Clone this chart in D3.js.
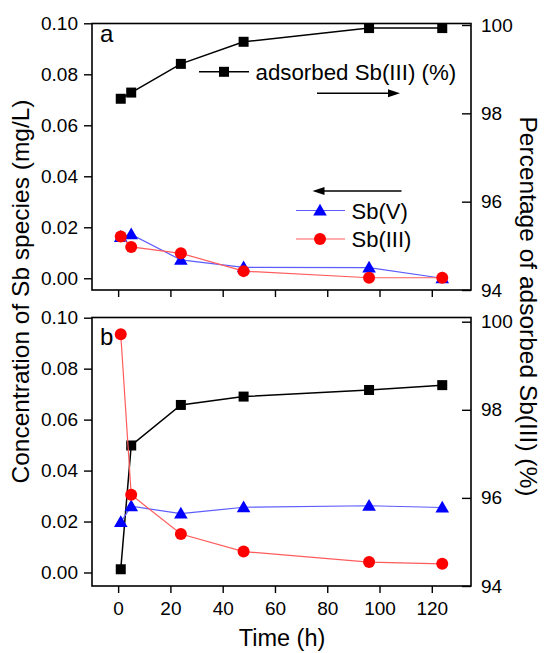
<!DOCTYPE html>
<html>
<head>
<meta charset="utf-8">
<script src="https://cdn.jsdelivr.net/npm/d3@7"></script>
<style>
  html, body { margin: 0; padding: 0; background: #fff; }
  svg { display: block; font-family: "Liberation Sans", Arial, Helvetica, sans-serif; }
</style>
</head>
<body>
<svg id="chart" width="546" height="653"></svg>
<script>
// ---- data ----
const times = [1, 5, 24, 48, 96, 124];
const topSbV   = [0.0162, 0.0172, 0.0072, 0.0043, 0.0042, 0.0];
const topSbIII = [0.0164, 0.0123, 0.0098, 0.0028, 0.0002, 0.0002];
const topAds   = [98.33, 98.47, 99.12, 99.62, 99.93, 99.93];
const botSbV   = [0.0198, 0.0260, 0.0231, 0.0256, 0.0262, 0.0255];
const botSbIII = [0.0935, 0.0305, 0.0151, 0.0082, 0.0041, 0.0034];
const botAds   = [94.38, 97.19, 98.11, 98.30, 98.45, 98.56];
const xTicks = [0, 20, 40, 60, 80, 100, 120];
const leftTicks = [0.00, 0.02, 0.04, 0.06, 0.08, 0.10];
const rightTicks = [94, 96, 98, 100];
const panelLetters = ["a", "b"];
const legendLabels = ["adsorbed Sb(III) (%)", "Sb(V)", "Sb(III)"];
const yTitleLeft = "Concentration of Sb species (mg/L)";
const yTitleRight = "Percentage of adsorbed Sb(III) (%)";
const xTitle = "Time (h)";

// ---- layout ----
const svg = d3.select("#chart");
const X0 = 92, X1 = 471;
const x = d3.scaleLinear().domain([-10, 135]).range([X0, X1]);

const panels = [
  { top: 23.5, bottom: 290, yL: [-0.0046, 0.10], yLr: [290, 23.3], yR: [94, 100], yRr: [290, 25],
    sbv: topSbV, sb3: topSbIII, ads: topAds, letter: panelLetters[0], labels: false },
  { top: 317.5, bottom: 586, yL: [-0.0053, 0.10], yLr: [586, 317.7], yR: [94, 100], yRr: [586, 321.7],
    sbv: botSbV, sb3: botSbIII, ads: botAds, letter: panelLetters[1], labels: true }
];

const blueMk = "#0000ff", blueLn = "#5c5cff";
const redMk = "#ff0000", redLn = "#ff5c5c";
const tri = d3.symbol().type(d3.symbolTriangle).size(80);
const FF = "Liberation Sans, Arial, sans-serif";

panels.forEach((p, pi) => {
  const yl = d3.scaleLinear().domain(p.yL).range(p.yLr);
  const yr = d3.scaleLinear().domain(p.yR).range(p.yRr);
  const g = svg.append("g");

  // box
  g.append("rect").attr("x", X0).attr("y", p.top).attr("width", X1 - X0).attr("height", p.bottom - p.top)
    .attr("fill", "none").attr("stroke", "#000").attr("stroke-width", 1.6);

  // left axis (outward ticks)
  const la = g.append("g").attr("transform", `translate(${X0},0)`)
    .call(d3.axisLeft(yl).tickValues(leftTicks).tickFormat(d3.format(".2f")).tickSize(8).tickSizeOuter(0).tickPadding(6));
  la.select(".domain").remove();
  la.selectAll("line").attr("stroke-width", 1.4);
  la.selectAll("text").attr("font-size", 19).attr("fill", "#000").attr("font-family", FF);

  // right axis (inward ticks)
  const ra = g.append("g").attr("transform", `translate(${X1},0)`)
    .call(d3.axisRight(yr).tickValues(rightTicks).tickFormat(d3.format("d")).tickSize(0).tickPadding(10));
  ra.select(".domain").remove();
  ra.selectAll(".tick line").attr("x2", -9).attr("stroke", "#000").attr("stroke-width", 1.4);
  ra.selectAll("text").attr("font-size", 19).attr("fill", "#000").attr("font-family", FF);

  // bottom axis (outward ticks)
  const ba = g.append("g").attr("transform", `translate(0,${p.bottom})`)
    .call(d3.axisBottom(x).tickValues(xTicks).tickFormat(p.labels ? d3.format("d") : () => "").tickSize(7).tickSizeOuter(0).tickPadding(9));
  ba.select(".domain").remove();
  ba.selectAll("line").attr("stroke-width", 1.4);
  ba.selectAll("text").attr("font-size", 19).attr("fill", "#000").attr("font-family", FF);

  // series lines
  const lineL = d3.line().x((d, i) => x(times[i])).y(d => yl(d));
  const lineR = d3.line().x((d, i) => x(times[i])).y(d => yr(d));

  g.append("path").datum(p.ads).attr("d", lineR).attr("fill", "none").attr("stroke", "#000").attr("stroke-width", 1.5);
  g.selectAll(".sq").data(p.ads).enter().append("rect")
    .attr("x", (d, i) => x(times[i]) - 5).attr("y", d => yr(d) - 5)
    .attr("width", 10).attr("height", 10).attr("fill", "#000");

  g.append("path").datum(p.sbv).attr("d", lineL).attr("fill", "none").attr("stroke", blueLn).attr("stroke-width", 1.2);
  g.selectAll(".tri").data(p.sbv).enter().append("path")
    .attr("d", tri).attr("transform", (d, i) => `translate(${x(times[i])},${yl(d) + 1})`).attr("fill", blueMk);

  g.append("path").datum(p.sb3).attr("d", lineL).attr("fill", "none").attr("stroke", redLn).attr("stroke-width", 1.2);
  g.selectAll(".cir").data(p.sb3).enter().append("circle")
    .attr("cx", (d, i) => x(times[i])).attr("cy", d => yl(d)).attr("r", 6).attr("fill", redMk);

  // panel letter
  g.append("text").attr("x", 100).attr("y", p.top + (pi === 0 ? 18.5 : 27.5))
    .attr("font-size", 24).attr("fill", "#000").text(p.letter);
});

// ---- legend (panel a) ----
const lg = svg.append("g");
lg.append("line").attr("x1", 199).attr("x2", 249).attr("y1", 71.8).attr("y2", 71.8).attr("stroke", "#000").attr("stroke-width", 1.5);
lg.append("rect").attr("x", 219).attr("y", 66.8).attr("width", 10).attr("height", 10).attr("fill", "#000");
lg.append("text").attr("x", 255.5).attr("y", 80).attr("font-size", 22.3).attr("fill", "#000").text(legendLabels[0]);

lg.append("line").attr("x1", 296).attr("x2", 345).attr("y1", 210.5).attr("y2", 210.5).attr("stroke", blueLn).attr("stroke-width", 1.2);
lg.append("path").attr("d", tri).attr("transform", "translate(320,211.5)").attr("fill", blueMk);
lg.append("text").attr("x", 351.5).attr("y", 218.5).attr("font-size", 22).attr("fill", "#000").text(legendLabels[1]);

lg.append("line").attr("x1", 296).attr("x2", 345).attr("y1", 239).attr("y2", 239).attr("stroke", redLn).attr("stroke-width", 1.2);
lg.append("circle").attr("cx", 320).attr("cy", 239).attr("r", 6).attr("fill", redMk);
lg.append("text").attr("x", 351.5).attr("y", 246.5).attr("font-size", 22).attr("fill", "#000").text(legendLabels[2]);

// arrows
function arrow(xTail, xHead, y) {
  const dir = Math.sign(xHead - xTail);
  lg.append("line").attr("x1", xTail).attr("x2", xHead - dir * 8).attr("y1", y).attr("y2", y).attr("stroke", "#000").attr("stroke-width", 1.6);
  lg.append("path").attr("d", `M${xHead},${y} L${xHead - dir * 12},${y - 4} L${xHead - dir * 12},${y + 4} Z`).attr("fill", "#000");
}
arrow(317, 400, 93.3);
arrow(401.5, 312.5, 191);

// ---- axis titles ----
svg.append("text").attr("transform", "translate(29,291.5) rotate(-90)").attr("text-anchor", "middle")
  .attr("font-size", 24.5).attr("fill", "#000").text(yTitleLeft);
svg.append("text").attr("transform", "translate(520,306.5) rotate(90)").attr("text-anchor", "middle")
  .attr("font-size", 24.5).attr("fill", "#000").text(yTitleRight);
svg.append("text").attr("x", 282).attr("y", 646).attr("text-anchor", "middle")
  .attr("font-size", 23.5).attr("fill", "#000").text(xTitle);
</script>
</body>
</html>
